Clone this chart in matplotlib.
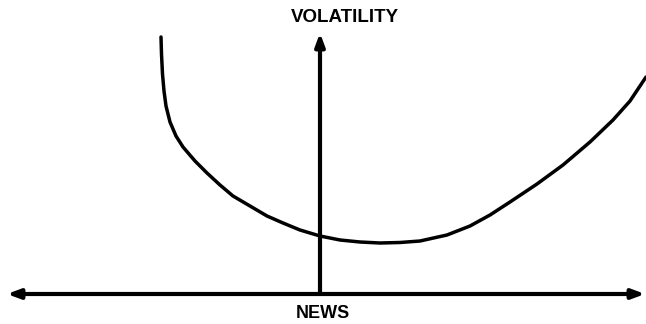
import matplotlib
matplotlib.use('Agg')
import matplotlib.pyplot as plt

# news impact curve (origin = axis crossing)
news = [-159, -158.5, -157.5, -156, -154, -150, -144, -137, -125, -113, -100, -87,
        -70, -53, -37, -20, 0, 20, 40, 60, 80, 100, 127, 150, 170, 190, 217,
        243, 270, 293, 310, 326]
vol  = [257, 240, 220, 203, 188, 172, 158, 147, 133, 121, 109, 98,
        88, 78, 71, 64, 58, 54, 52, 51, 51.5, 53, 59, 68, 79, 92, 110,
        129, 152, 174, 193, 217]

x_label = "NEWS"
y_label = "VOLATILITY"

fig = plt.figure(figsize=(6.46, 3.24), dpi=100)
ax = fig.add_axes([0, 0, 1, 1])
ax.set_xlim(-320, 326)
ax.set_ylim(-30, 294)
ax.axis('off')

arrow = dict(arrowstyle='-|>,head_length=0.75,head_width=0.28', lw=3, color='black',
             shrinkA=0, shrinkB=0)
ax.annotate("", xy=(-313, 0), xytext=(0, 0), arrowprops=arrow)
ax.annotate("", xy=(325, 0), xytext=(0, 0), arrowprops=arrow)
ax.annotate("", xy=(0, 261), xytext=(0, 0), arrowprops=arrow)

ax.plot(news, vol, color='black', lw=2.5, solid_capstyle='round',
        solid_joinstyle='round')

ax.text(25, 276, y_label, ha='center', va='center', fontsize=13.5,
        fontweight='bold', family='Liberation Sans')
ax.text(3, -19, x_label, ha='center', va='center', fontsize=13,
        fontweight='bold', family='Liberation Sans')

plt.savefig("out.png", dpi=100)
